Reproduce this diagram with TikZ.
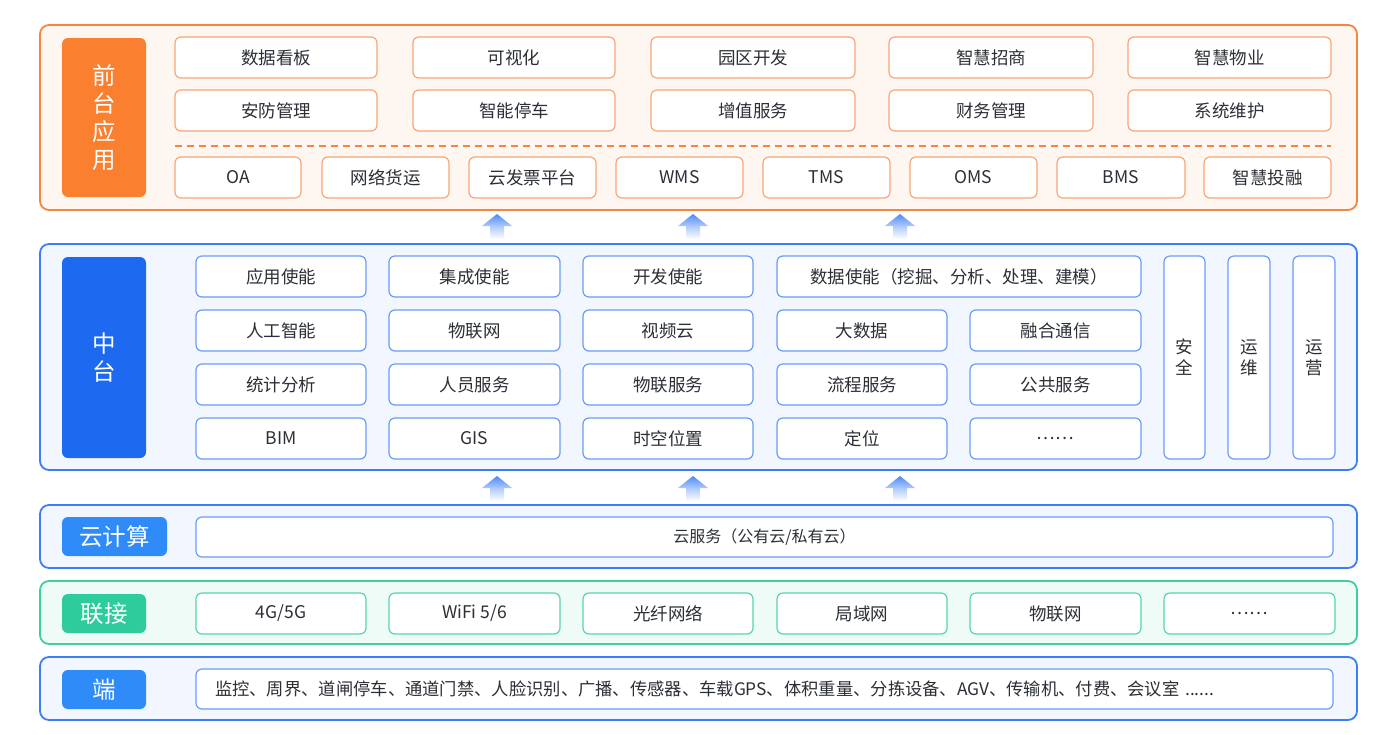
\documentclass[tikz,border=0pt]{standalone}
\usepackage{fontspec}
\setmainfont{Noto Sans CJK SC}
\usetikzlibrary{positioning}
\definecolor{orB}{HTML}{F9843C}
\definecolor{orL}{HTML}{F9A676}
\definecolor{orF}{HTML}{FEF6F0}
\definecolor{orLab}{HTML}{FA7F2E}
\definecolor{blB}{HTML}{3C7EF5}
\definecolor{blL}{HTML}{6A9CF6}
\definecolor{blF}{HTML}{F2F6FE}
\definecolor{blLab}{HTML}{1D69F0}
\definecolor{blLab2}{HTML}{2E8BF7}
\definecolor{grB}{HTML}{3CCFA5}
\definecolor{grL}{HTML}{55D6B0}
\definecolor{grF}{HTML}{EFFBF7}
\definecolor{grLab}{HTML}{2ECB9C}
\definecolor{txt}{HTML}{2B2F36}
\newcommand\bx[7]{\node[#6, minimum width={#4-#2}, minimum height={#5-#3}] (#1) at ({(#2+#4)/2},{(#3+#5)/2}) {#7};}
\newcommand\uparr[2]{\shade[top color=blB!90, bottom color=white, middle color=blB!40]
  (#1,#2) -- (#1+15,#2+12) -- (#1+7,#2+12) -- (#1+7,#2+25) -- (#1-7,#2+25) -- (#1-7,#2+12) -- (#1-15,#2+12) -- cycle;}
\tikzset{
  base/.style={inner sep=0pt, outer sep=0pt, text=txt, font=\fontsize{17.5}{20}\selectfont},
  outerO/.style={draw=orB, line width=1.8pt, fill=orF, rounded corners=9pt},
  outerB/.style={draw=blB, line width=1.8pt, fill=blF, rounded corners=9pt},
  outerG/.style={draw=grB, line width=1.8pt, fill=grF, rounded corners=9pt},
  obox/.style={base, draw=orL, line width=1.2pt, fill=white, rounded corners=6pt},
  bbox/.style={base, draw=blL, line width=1.2pt, fill=white, rounded corners=6pt},
  gbox/.style={base, draw=grL, line width=1.2pt, fill=white, rounded corners=6pt},
  lab/.style={inner sep=0pt, outer sep=0pt, text=white, rounded corners=6pt, align=center, font=\fontsize{23.5}{28}\selectfont},
}
\begin{document}
\begin{tikzpicture}[x=1pt,y=-1pt]
\useasboundingbox[fill=white] (0,0) rectangle (1380,734);
% ===== Front application layer
\bx{front}{40}{25}{1357}{210}{outerO}{}
\bx{frontlab}{62}{38}{146}{197}{lab, fill=orLab}{前\\台\\应\\用}
\bx{f11}{175}{37}{377}{78}{obox}{数据看板}
\bx{f12}{413}{37}{615}{78}{obox}{可视化}
\bx{f13}{651}{37}{855}{78}{obox}{园区开发}
\bx{f14}{889}{37}{1093}{78}{obox}{智慧招商}
\bx{f15}{1128}{37}{1331}{78}{obox}{智慧物业}
\bx{f21}{175}{90}{377}{131}{obox}{安防管理}
\bx{f22}{413}{90}{615}{131}{obox}{智能停车}
\bx{f23}{651}{90}{855}{131}{obox}{增值服务}
\bx{f24}{889}{90}{1093}{131}{obox}{财务管理}
\bx{f25}{1128}{90}{1331}{131}{obox}{系统维护}
\coordinate (dl) at (175,146);
\coordinate (dr) at (1331,146);
\draw[orB, line width=1.5pt, dash pattern=on 7pt off 5pt] (dl) -- (dr);
\bx{f31}{175}{157}{301}{198}{obox}{OA}
\bx{f32}{322}{157}{449}{198}{obox}{网络货运}
\bx{f33}{469}{157}{596}{198}{obox}{云发票平台}
\bx{f34}{616}{157}{743}{198}{obox}{WMS}
\bx{f35}{763}{157}{890}{198}{obox}{TMS}
\bx{f36}{910}{157}{1037}{198}{obox}{OMS}
\bx{f37}{1057}{157}{1185}{198}{obox}{BMS}
\bx{f38}{1204}{157}{1331}{198}{obox}{智慧投融}
% arrows
\uparr{497}{214}
\uparr{693}{214}
\uparr{900}{214}
% ===== Middle platform
\bx{mid}{40}{244}{1357}{470}{outerB}{}
\bx{midlab}{62}{257}{146}{458}{lab, fill=blLab}{中\\台}
\bx{m11}{196}{256}{366}{297}{bbox}{应用使能}
\bx{m12}{389}{256}{560}{297}{bbox}{集成使能}
\bx{m13}{583}{256}{753}{297}{bbox}{开发使能}
\bx{m14}{777}{256}{1141}{297}{bbox}{数据使能（挖掘、分析、处理、建模）}
\bx{m21}{196}{310}{366}{351}{bbox}{人工智能}
\bx{m22}{389}{310}{560}{351}{bbox}{物联网}
\bx{m23}{583}{310}{753}{351}{bbox}{视频云}
\bx{m24}{777}{310}{947}{351}{bbox}{大数据}
\bx{m25}{970}{310}{1141}{351}{bbox}{融合通信}
\bx{m31}{196}{364}{366}{405}{bbox}{统计分析}
\bx{m32}{389}{364}{560}{405}{bbox}{人员服务}
\bx{m33}{583}{364}{753}{405}{bbox}{物联服务}
\bx{m34}{777}{364}{947}{405}{bbox}{流程服务}
\bx{m35}{970}{364}{1141}{405}{bbox}{公共服务}
\bx{m41}{196}{418}{366}{459}{bbox}{BIM}
\bx{m42}{389}{418}{560}{459}{bbox}{GIS}
\bx{m43}{583}{418}{753}{459}{bbox}{时空位置}
\bx{m44}{777}{418}{947}{459}{bbox}{定位}
\bx{m45}{970}{418}{1141}{459}{bbox}{……}
\bx{mv1}{1164}{256}{1205}{459}{bbox, align=center, font=\fontsize{17.5}{21}\selectfont}{安\\全}
\bx{mv2}{1228}{256}{1270}{459}{bbox, align=center, font=\fontsize{17.5}{21}\selectfont}{运\\维}
\bx{mv3}{1293}{256}{1335}{459}{bbox, align=center, font=\fontsize{17.5}{21}\selectfont}{运\\营}
% arrows
\uparr{497}{476}
\uparr{693}{476}
\uparr{900}{476}
% ===== Cloud
\bx{cloud}{40}{505}{1357}{568}{outerB}{}
\bx{cloudlab}{62}{517}{167}{556}{lab, fill=blLab2}{云计算}
\bx{c1}{196}{517}{1333}{557}{bbox, font=\fontsize{16}{19}\selectfont}{云服务（公有云/私有云）}
% ===== Connect
\bx{conn}{40}{581}{1357}{644}{outerG}{}
\bx{connlab}{62}{594}{146}{633}{lab, fill=grLab}{联接}
\bx{n1}{196}{593}{366}{634}{gbox}{4G/5G}
\bx{n2}{389}{593}{560}{634}{gbox}{WiFi 5/6}
\bx{n3}{583}{593}{753}{634}{gbox}{光纤网络}
\bx{n4}{777}{593}{947}{634}{gbox}{局域网}
\bx{n5}{970}{593}{1141}{634}{gbox}{物联网}
\bx{n6}{1164}{593}{1335}{634}{gbox}{……}
% ===== Terminal
\bx{term}{40}{657}{1357}{720}{outerB}{}
\bx{termlab}{62}{670}{146}{709}{lab, fill=blLab2}{端}
\bx{t1}{196}{669}{1333}{709}{bbox, inner xsep=19pt, text width=1099pt, align=left, font=\fontsize{17.3}{20}\selectfont}{监控、周界、道闸停车、通道门禁、人脸识别、广播、传感器、车载GPS、体积重量、分拣设备、AGV、传输机、付费、会议室 ......}
\end{tikzpicture}
\end{document}
